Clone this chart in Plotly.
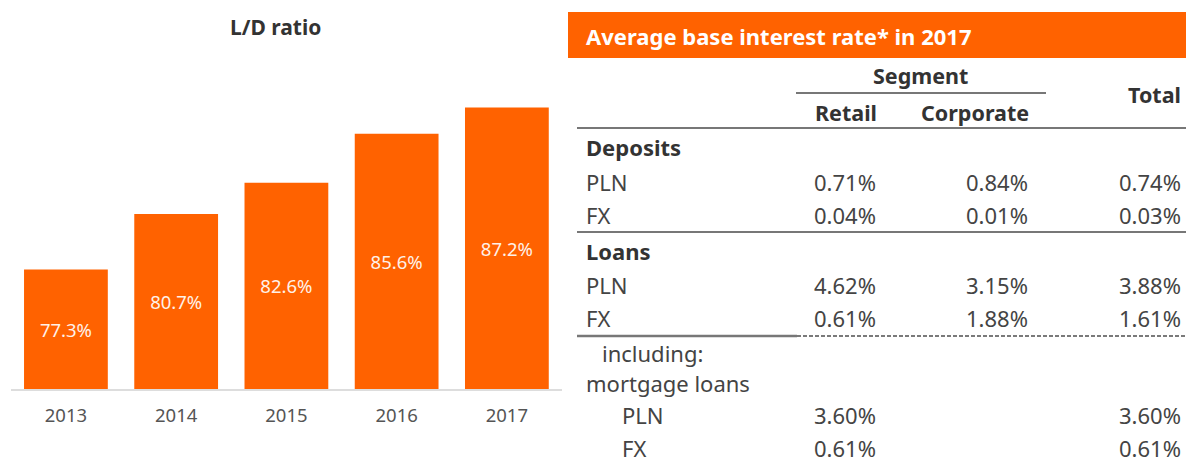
import plotly.graph_objects as go

W, H = 1186, 462

# ---- bar chart data ----
years = ["2013", "2014", "2015", "2016", "2017"]
ld_ratio = [77.3, 80.7, 82.6, 85.6, 87.2]
bar_labels = ["77.3%", "80.7%", "82.6%", "85.6%", "87.2%"]
AXIS_MIN, AXIS_MAX = 70, 88

# ---- table data ----
table_title = "Average base interest rate* in 2017"
row_labels = ["Deposits", "PLN", "FX", "Loans", "PLN", "FX",
              "including:", "mortgage loans", "PLN", "FX"]
row_bold = [True, False, False, True, False, False, False, False, False, False]
row_indent = [0, 0, 0, 0, 0, 0, 16, 0, 36, 36]
retail = ["", "0.71%", "0.04%", "", "4.62%", "0.61%", "", "", "3.60%", "0.61%"]
corporate = ["", "0.84%", "0.01%", "", "3.15%", "1.88%", "", "", "", ""]
total = ["", "0.74%", "0.03%", "", "3.88%", "1.61%", "", "", "3.60%", "0.61%"]
row_y = [147, 182, 215, 251, 285, 318, 353, 383, 415, 448]

ORANGE = "#FF6200"
FONT = "Noto Sans"
DARK = "#333333"
BODY = "#444444"


def px(x):
    return x / W


def py(y):
    return 1 - y / H


fig = go.Figure()
fig.add_trace(go.Bar(
    x=years, y=[v - AXIS_MIN for v in ld_ratio], base=AXIS_MIN, text=bar_labels,
    marker=dict(color=ORANGE, line=dict(width=0)),
    textposition="inside", insidetextanchor="middle",
    textfont=dict(family=FONT, size=18.5, color="#FFF1E8"),
    hoverinfo="skip",
))

fig.update_layout(
    width=W, height=H,
    margin=dict(l=0, r=0, t=0, b=0),
    paper_bgcolor="white", plot_bgcolor="white",
    showlegend=False, bargap=0.24,
    font=dict(family=FONT, color=BODY),
    xaxis=dict(domain=[px(10.8), px(562)], range=[-0.5, 4.5],
               showline=True, linecolor="#DDDDDD", linewidth=1.5,
               showgrid=False, zeroline=False, ticks="",
               tickfont=dict(family=FONT, size=18.5, color="#555555"),
               ticklabelstandoff=9),
    yaxis=dict(domain=[py(389), py(94.5)], range=[AXIS_MIN, AXIS_MAX],
               visible=False, showgrid=False, zeroline=False),
)

ann = []
shapes = []

ann.append(dict(text="<b>L/D ratio</b>", x=px(275), y=py(27), xref="paper", yref="paper",
                xanchor="center", yanchor="middle", showarrow=False,
                font=dict(family=FONT, size=21, color=DARK)))

# table header band
shapes.append(dict(type="rect", xref="paper", yref="paper",
                   x0=px(568), x1=px(1186), y0=py(58), y1=py(12),
                   fillcolor=ORANGE, line=dict(width=0), layer="below"))
ann.append(dict(text="<b>" + table_title + "</b>", x=px(584), y=py(36), xref="paper", yref="paper",
                xanchor="left", yanchor="middle", showarrow=False,
                font=dict(family=FONT, size=22, color="white")))

# column headers
hdr_font = dict(family=FONT, size=21.5, color=DARK)
ann.append(dict(text="<b>Segment</b>", x=px(920), y=py(75), xref="paper", yref="paper",
                xanchor="center", yanchor="middle", showarrow=False, font=hdr_font))
ann.append(dict(text="<b>Retail</b>", x=px(846), y=py(112), xref="paper", yref="paper",
                xanchor="center", yanchor="middle", showarrow=False, font=hdr_font))
ann.append(dict(text="<b>Corporate</b>", x=px(975), y=py(112), xref="paper", yref="paper",
                xanchor="center", yanchor="middle", showarrow=False, font=hdr_font))
ann.append(dict(text="<b>Total</b>", x=px(1183), y=py(95), xref="paper", yref="paper",
                xanchor="right", yanchor="middle", showarrow=False, font=hdr_font))

# lines
line_col = "#777777"
shapes.append(dict(type="line", xref="paper", yref="paper", x0=px(796), x1=px(1046),
                   y0=py(93), y1=py(93), line=dict(color=line_col, width=2)))
for yy in [128, 232]:
    shapes.append(dict(type="line", xref="paper", yref="paper", x0=px(577), x1=px(1186),
                       y0=py(yy), y1=py(yy), line=dict(color=line_col, width=2)))
shapes.append(dict(type="line", xref="paper", yref="paper", x0=px(577), x1=px(797),
                   y0=py(336), y1=py(336), line=dict(color=line_col, width=2.5)))
shapes.append(dict(type="line", xref="paper", yref="paper", x0=px(797), x1=px(1186),
                   y0=py(336), y1=py(336), line=dict(color="#7A7A7A", width=2, dash="4px,2px")))

# rows
for lab, b, ind, r, c, t, yy in zip(row_labels, row_bold, row_indent, retail, corporate, total, row_y):
    txt = "<b>" + lab + "</b>" if b else lab
    ann.append(dict(text=txt, x=px(584 + ind), y=py(yy), xref="paper", yref="paper",
                    xanchor="left", yanchor="middle", showarrow=False,
                    font=dict(family=FONT, size=22, color=DARK if b else BODY)))
    for val, xr in [(r, 878), (c, 1030), (t, 1183)]:
        if val:
            ann.append(dict(text=val, x=px(xr), y=py(yy), xref="paper", yref="paper",
                            xanchor="right", yanchor="middle", showarrow=False,
                            font=dict(family=FONT, size=22, color=BODY)))

fig.update_layout(annotations=ann, shapes=shapes)
fig.write_html("out.html", config={"displayModeBar": False},
               post_script="document.body.style.margin='0';document.body.style.overflow='hidden';")
